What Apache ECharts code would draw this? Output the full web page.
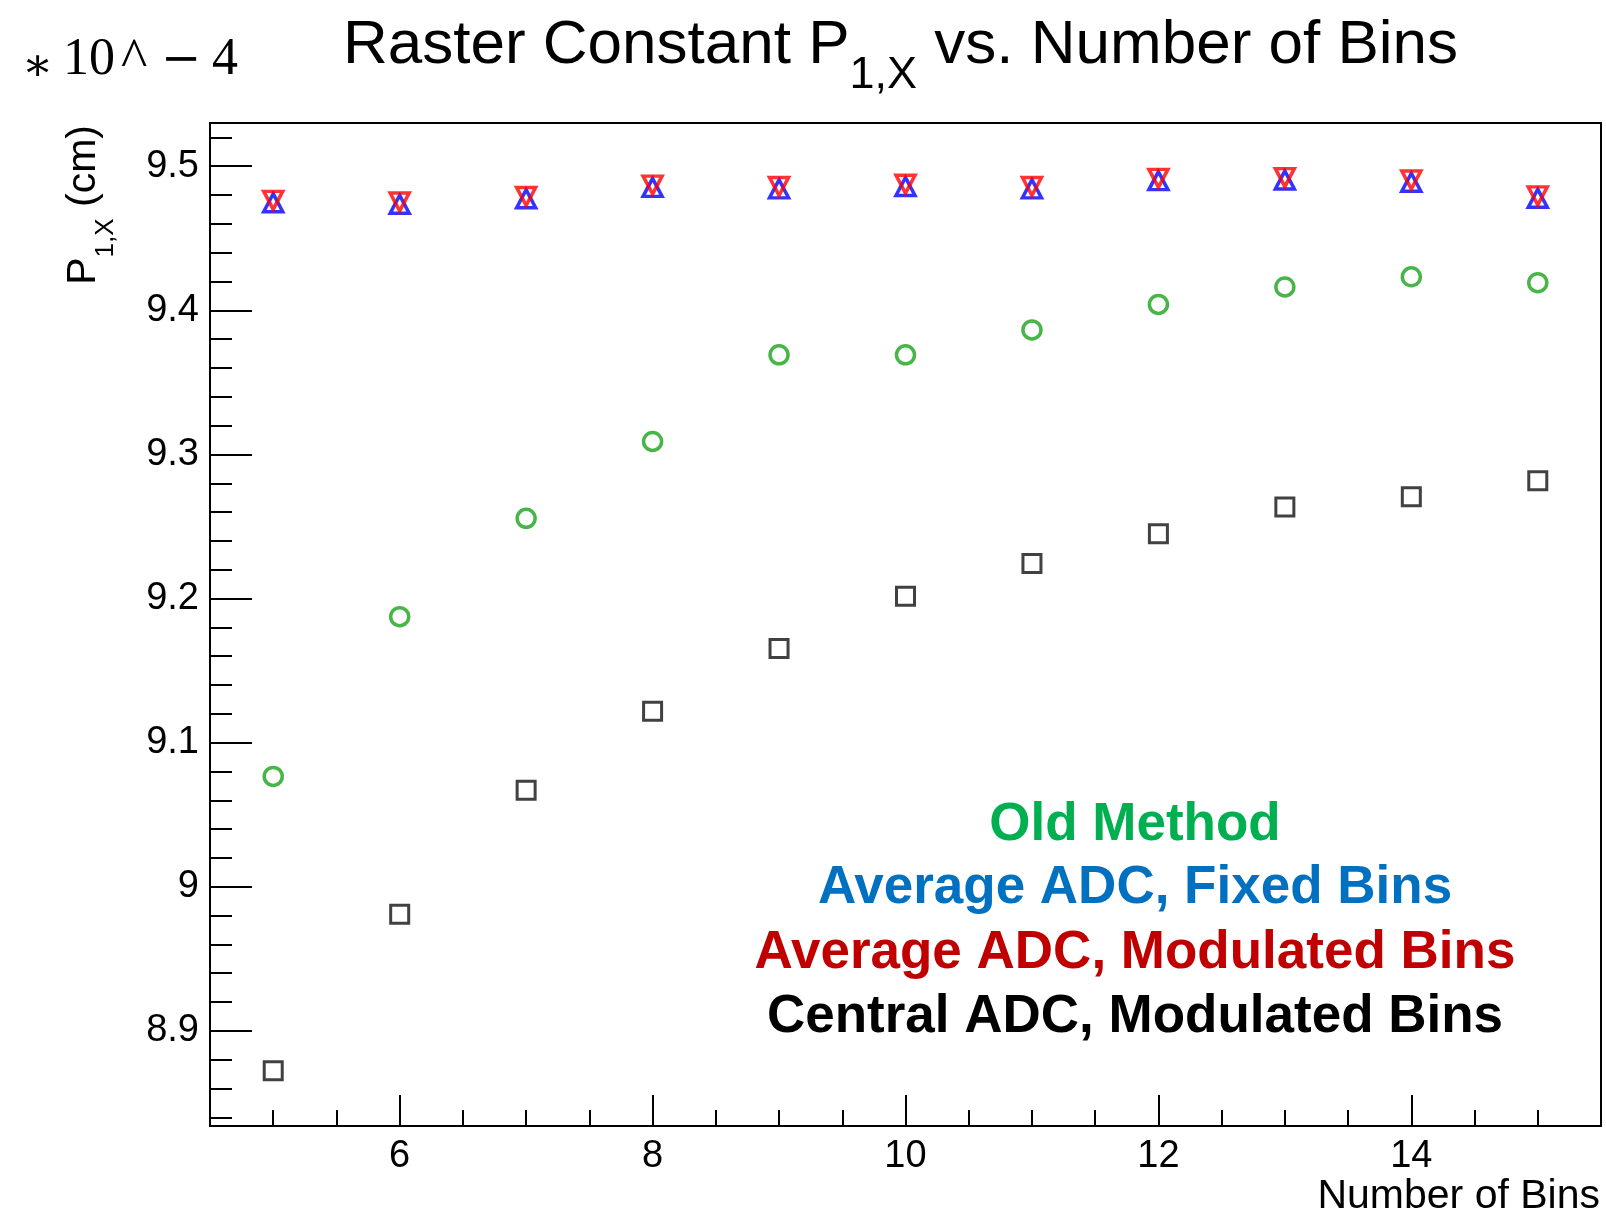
<!DOCTYPE html>
<html>
<head>
<meta charset="utf-8">
<title>Raster Constant P1,X vs. Number of Bins</title>
<script src="https://cdn.jsdelivr.net/npm/echarts@6/dist/echarts.min.js"></script>
<style>
  html, body { margin: 0; padding: 0; background: #fff; }
  #chart { width: 1606px; height: 1213px; }
</style>
</head>
<body>
<div id="chart"></div>
<script>
// Number of bins used in the raster fit
const bins = [5, 6, 7, 8, 9, 10, 11, 12, 13, 14, 15];

// P1,X results (units of 1e-4 cm) for each method
const oldMethod = [9.0766, 9.1874, 9.2557, 9.3090, 9.3691, 9.3691, 9.3864, 9.4041, 9.4162, 9.4233, 9.4192];
const avgFixed = [9.4747, 9.4736, 9.4774, 9.4853, 9.4843, 9.4859, 9.4843, 9.4900, 9.4905, 9.4889, 9.4778];
const avgModulated = [9.4763, 9.4752, 9.4790, 9.4869, 9.4859, 9.4875, 9.4859, 9.4916, 9.4921, 9.4905, 9.4794];
const centralModulated = [8.8723, 8.9809, 9.0669, 9.1218, 9.1653, 9.2016, 9.2243, 9.2450, 9.2635, 9.2706, 9.2818];

// Axis tick positions
const xMajorTicks = [6, 8, 10, 12, 14];
const xMinorTicks = [5, 5.5, 6.5, 7, 7.5, 8.5, 9, 9.5, 10.5, 11, 11.5, 12.5, 13, 13.5, 14.5, 15];
const yMajorTicks = [8.9, 9, 9.1, 9.2, 9.3, 9.4, 9.5];
const yMinorTicks = [8.84, 8.86, 8.88, 8.92, 8.94, 8.96, 8.98, 9.02, 9.04, 9.06, 9.08,
  9.12, 9.14, 9.16, 9.18, 9.22, 9.24, 9.26, 9.28, 9.32, 9.34, 9.36, 9.38,
  9.42, 9.44, 9.46, 9.48, 9.52];

// Annotation lines drawn inside the frame
const methodNames = ['Old Method', 'Average ADC, Fixed Bins', 'Average ADC, Modulated Bins', 'Central ADC, Modulated Bins'];
const methodColors = ['#00b050', '#0070c0', '#c00000', '#000000'];

const pairs = (ys) => bins.map((b, i) => [b, ys[i]]);

const SANS = '"Liberation Sans", Arial, Helvetica, sans-serif';
const SERIF = '"Liberation Serif", "Times New Roman", serif';
const MATH = '"DejaVu Serif", serif';

const X_MIN = 4.5, X_MAX = 15.5;
const Y_MIN = 8.834, Y_MAX = 9.530;

function hollow(color, width) {
  return { color: 'rgba(0,0,0,0)', borderColor: color, borderWidth: width };
}

const chart = echarts.init(document.getElementById('chart'), null, { renderer: 'canvas' });

const legendLines = methodNames.map((name, i) => ({
  type: 'text',
  x: 1135,
  y: [825, 888, 953, 1017][i],
  style: {
    text: name,
    fill: methodColors[i],
    font: 'bold 53px ' + SANS,
    align: 'center',
    verticalAlign: 'middle'
  },
  z: 10
}));

function plain(x, y, text, font) {
  return { type: 'text', x: x, y: y, style: { text: text, font: font, fill: '#000', align: 'left', verticalAlign: 'middle' } };
}

chart.setOption({
  animation: false,
  backgroundColor: '#fff',
  grid: {
    left: 210, right: 5, top: 123, bottom: 87,
    show: true, borderColor: '#000', borderWidth: 2, backgroundColor: '#fff'
  },
  xAxis: [
    {
      type: 'value', min: X_MIN, max: X_MAX, position: 'bottom',
      axisLine: { show: true, lineStyle: { color: '#000', width: 2 } },
      axisTick: { show: true, inside: true, length: 31, customValues: xMajorTicks, lineStyle: { color: '#000', width: 2 } },
      axisLabel: { show: true, customValues: xMajorTicks, margin: 12, color: '#000', fontSize: 38, fontFamily: SANS },
      splitLine: { show: false }
    },
    {
      type: 'value', min: X_MIN, max: X_MAX, position: 'bottom', offset: 0,
      axisLine: { show: false },
      axisTick: { show: true, inside: true, length: 16, customValues: xMinorTicks, lineStyle: { color: '#000', width: 2 } },
      axisLabel: { show: false },
      splitLine: { show: false }
    }
  ],
  yAxis: [
    {
      type: 'value', min: Y_MIN, max: Y_MAX, position: 'left',
      axisLine: { show: true, lineStyle: { color: '#000', width: 2 } },
      axisTick: { show: true, inside: true, length: 42, customValues: yMajorTicks, lineStyle: { color: '#000', width: 2 } },
      axisLabel: { show: true, customValues: yMajorTicks, margin: 11, padding: [6, 0, 0, 0], color: '#000', fontSize: 38, fontFamily: SANS },
      splitLine: { show: false }
    },
    {
      type: 'value', min: Y_MIN, max: Y_MAX, position: 'left', offset: 0,
      axisLine: { show: false },
      axisTick: { show: true, inside: true, length: 22, customValues: yMinorTicks, lineStyle: { color: '#000', width: 2 } },
      axisLabel: { show: false },
      splitLine: { show: false }
    }
  ],
  series: [
    {
      name: 'Old Method', type: 'scatter', xAxisIndex: 0, yAxisIndex: 0,
      symbol: 'circle', symbolSize: 18,
      itemStyle: hollow('#19a319', 3.5),
      data: pairs(oldMethod), z: 3
    },
    {
      name: 'Central ADC, Modulated Bins', type: 'scatter', xAxisIndex: 0, yAxisIndex: 0,
      symbol: 'rect', symbolSize: 18,
      itemStyle: hollow('#111111', 3),
      data: pairs(centralModulated), z: 3
    },
    {
      name: 'Average ADC, Fixed Bins', type: 'scatter', xAxisIndex: 0, yAxisIndex: 0,
      symbol: 'triangle', symbolSize: [19, 18],
      itemStyle: hollow('#0000ff', 3.5),
      data: pairs(avgFixed), z: 4
    },
    {
      name: 'Average ADC, Modulated Bins', type: 'scatter', xAxisIndex: 0, yAxisIndex: 0,
      symbol: 'triangle', symbolSize: [19, 18], symbolRotate: 180,
      itemStyle: hollow('#ff0000', 3.5),
      data: pairs(avgModulated), z: 5
    }
  ],
  graphic: [
    // scale factor shown above the y axis
    plain(22, 68, '\u2217', '46px ' + MATH),
    plain(63, 60, '10', '52px ' + SERIF),
    plain(121, 62, '^', '56px ' + SERIF),
    plain(161, 62, '\u2212', '48px ' + MATH),
    plain(212, 60, '4', '52px ' + SERIF),
    // chart title with subscript
    {
      type: 'text', x: 343, y: 15,
      style: {
        text: '{m|Raster Constant P}{s|1,X}{m| vs. Number of Bins}',
        align: 'left', verticalAlign: 'top', fill: '#000',
        rich: {
          m: { fontFamily: SANS, fontSize: 62, lineHeight: 63, verticalAlign: 'top', fill: '#000' },
          s: { fontFamily: SANS, fontSize: 45, lineHeight: 45, verticalAlign: 'top', padding: [38, 0, 0, 0], fill: '#000' }
        }
      }
    },
    // y axis title, rotated
    {
      type: 'text', x: 63, y: 125, rotation: Math.PI / 2,
      style: {
        text: '{m|P}{s|1,X}{m| (cm)}',
        align: 'right', verticalAlign: 'top', fill: '#000',
        rich: {
          m: { fontFamily: SANS, fontSize: 41, lineHeight: 41, verticalAlign: 'top', fill: '#000' },
          s: { fontFamily: SANS, fontSize: 26, lineHeight: 26, verticalAlign: 'top', padding: [30, 0, 0, 0], fill: '#000' }
        }
      }
    },
    // x axis title
    { type: 'text', x: 1600, y: 1197, style: { text: 'Number of Bins', font: '41px ' + SANS, fill: '#000', align: 'right', verticalAlign: 'middle' } }
  ].concat(legendLines)
});
</script>
</body>
</html>
